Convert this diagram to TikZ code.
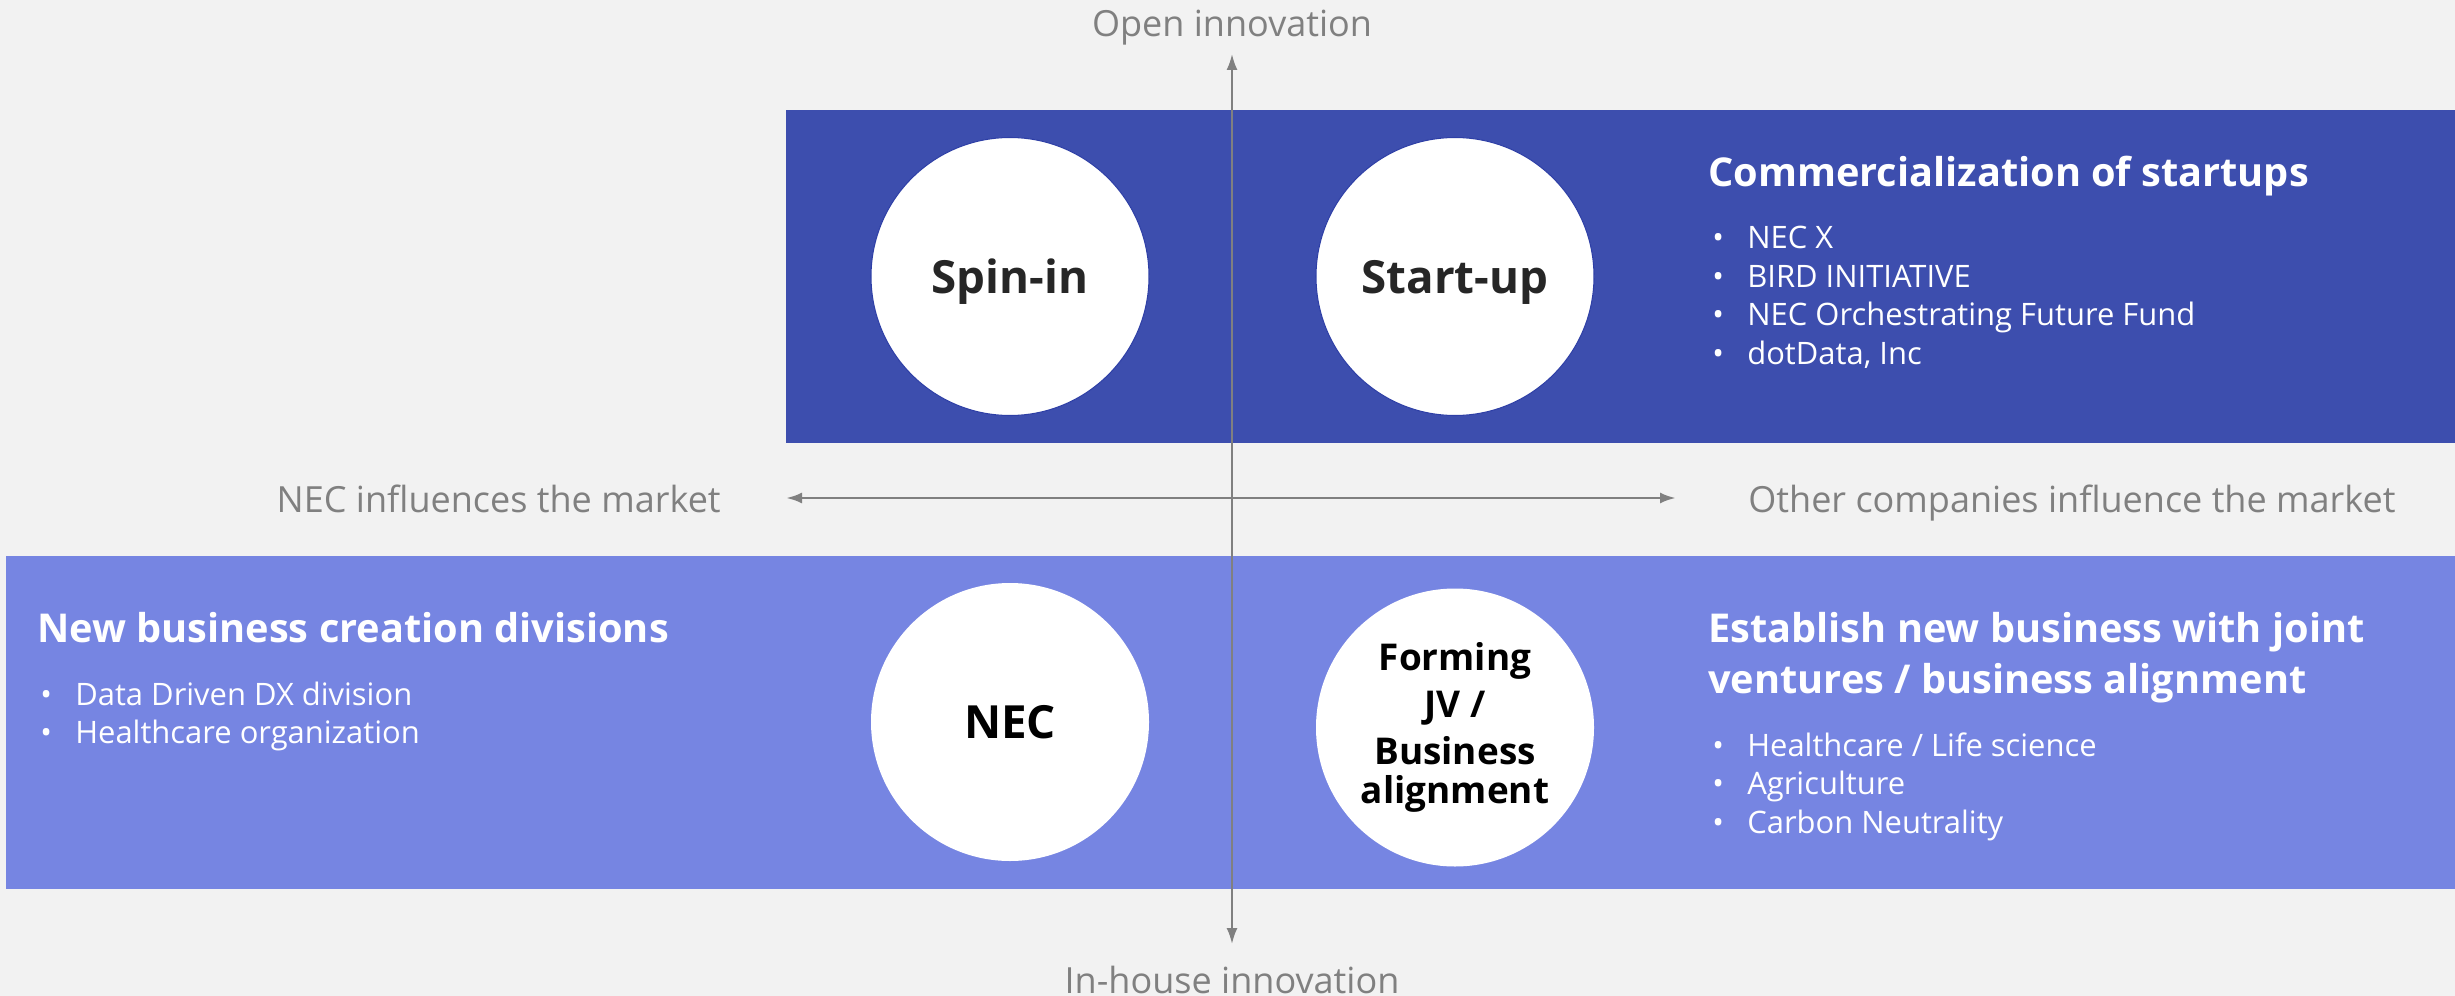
\documentclass[tikz,border=0pt]{standalone}
\usepackage{fontspec}
\setmainfont{Open Sans}
\usetikzlibrary{arrows.meta}

\definecolor{bggray}{HTML}{F2F2F2}
\definecolor{darkband}{HTML}{3D4EAE}
\definecolor{lightband}{HTML}{7685E2}
\definecolor{axisgray}{HTML}{808080}
\definecolor{rimblue}{HTML}{2E3FA6}
\definecolor{inkgray}{HTML}{262626}

\newcommand{\itm}{\makebox[7mm][l]{\textbullet}}

\begin{document}
\begin{tikzpicture}[x=0.2mm, y=-0.2mm,
    axis/.style={draw=axisgray, line width=1.2pt, {Latex[length=3.2mm,width=2.2mm]}-{Latex[length=3.2mm,width=2.2mm]}},
    axislabel/.style={text=axisgray, inner sep=0pt, font=\fontsize{20.5}{24}\selectfont},
    bubble/.style={circle, fill=white, minimum size=55.6mm, inner sep=0pt, align=center, font=\bfseries\fontsize{26}{30}\selectfont},
    heading/.style={text=white, anchor=base west, inner sep=0pt, font=\bfseries\fontsize{22.6}{29}\selectfont},
    items/.style={text=white, anchor=base west, inner sep=0pt, font=\fontsize{17.6}{22}\selectfont}]

    \fill[bggray] (0,0) rectangle (2455,996);
    \useasboundingbox (0,0) rectangle (2455,996);

    % bands
    \fill[darkband] (786,110) rectangle (2455,443);
    \fill[lightband] (6,556) rectangle (2455,889);

    % axes
    \coordinate (top) at (1232,54);
    \coordinate (bottom) at (1232,944);
    \coordinate (left) at (786,498);
    \coordinate (right) at (1676,498);
    \draw[axis, line width=1.6pt] (left) -- (right);
    \draw[axis] (bottom) -- (top);

    \node[axislabel, anchor=base] (open) at (1232,37) {Open innovation};
    \node[axislabel, anchor=base] (inhouse) at (1232,993) {In-house innovation};
    \node[axislabel, anchor=base east] (neclab) at (721,512) {NEC influences the market};
    \node[axislabel, anchor=base west] (otherlab) at (1748,512) {Other companies influence the market};

    % circles
    \node[bubble, draw=rimblue, line width=0.6pt, text=inkgray, text depth=0pt] (spin) at (1010,276.5) {Spin-in};
    \node[bubble, draw=rimblue, line width=0.6pt, text=inkgray, text depth=0pt] (startup) at (1455,276.5) {Start-up};
    \node[bubble, text=black, text depth=0pt] (nec) at (1010,722) {NEC};
    \node[bubble, text=black, yshift=-1.1mm, font=\bfseries\fontsize{21}{26.8}\selectfont] (jv) at (1455,722) {Forming\\JV /\\Business\\[-1.6mm]alignment};

    % texts
    \node[heading] (commh) at (1708,187) {Commercialization of startups};
    \foreach \txt [count=\i] in {NEC X, BIRD INITIATIVE, NEC Orchestrating Future Fund, {dotData, Inc}}
        \node[items] (startup-\i) at (1712,{249+38.4*(\i-1)}) {\itm\txt};

    \node[heading] (newh) at (37,642) {New business creation divisions};
    \foreach \txt [count=\i] in {Data Driven DX division, Healthcare organization}
        \node[items] (nec-\i) at (40,{705+38*(\i-1)}) {\itm\txt};

    \node[heading] (estab1) at (1708,642) {Establish new business with joint};
    \node[heading] (estab2) at (1708,693) {ventures / business alignment};
    \foreach \txt [count=\i] in {Healthcare / Life science, Agriculture, Carbon Neutrality}
        \node[items] (jv-\i) at (1712,{756+38.5*(\i-1)}) {\itm\txt};

\end{tikzpicture}
\end{document}
